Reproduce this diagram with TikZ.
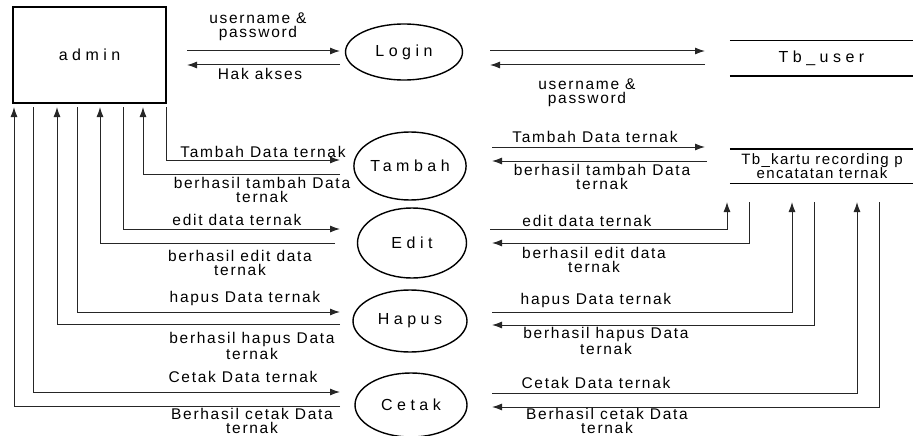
\documentclass[tikz,border=0pt]{standalone}
\usepackage{fontspec}
\setmainfont{Liberation Sans}
\newfontfamily\lbfont{Liberation Sans}[LetterSpace=11]
\newfontfamily\nmfont{Liberation Sans}[LetterSpace=28]
\newfontfamily\stfont{Liberation Sans}[LetterSpace=9]
\usetikzlibrary{shapes.geometric,arrows.meta}
\begin{document}
\begin{tikzpicture}[x=1pt,y=-1pt,
  flow/.style={draw=black!85, line width=1pt},
  arr/.style={flow, -{Latex[length=10pt,width=7pt]}},
  proc/.style={ellipse, draw, line width=1.4pt, inner sep=0pt, font=\nmfont\fontsize{16}{16}\selectfont},
  lbl/.style={align=center, inner sep=0pt, font=\lbfont\fontsize{15.5}{14}\selectfont},
  store/.style={inner sep=0pt, minimum width=183pt, align=center}]
\useasboundingbox (0,0) rectangle (913,436);

% entities and processes
\node[draw, line width=2pt, minimum width=153pt, minimum height=96pt, inner sep=0pt,
      font=\nmfont\fontsize{16}{16}\selectfont] (admin) at (89.5,55) {admin};
\node[proc, minimum width=117pt, minimum height=56pt] (login) at (404,52) {Login};
\node[proc, minimum width=108pt, minimum height=68pt] (tambah) at (410,166) {Tambah};
\node[proc, minimum width=109pt, minimum height=70pt] (edit) at (412,243) {Edit};
\node[proc, minimum width=114pt, minimum height=62pt] (hapus) at (410,321) {Hapus};
\node[proc, minimum width=112pt, minimum height=64pt] (cetak) at (411,405) {Cetak};

% data stores
\node[store, minimum height=35pt, font=\nmfont\fontsize{16}{16}\selectfont] (tbuser) at (821.5,58.5) {Tb\_user};
\draw[line width=1.4pt] (tbuser.north west) -- (tbuser.north east);
\draw[line width=1.4pt] (tbuser.south west) -- (tbuser.south east);
\node[store, minimum height=34pt] (tbkartu) at (821.5,166) {};
\node[inner sep=0pt, align=center, font=\stfont\fontsize{15}{14}\selectfont] (tbktext) at (822,166) {Tb\_kartu recording p\\encatatan ternak};
\draw[line width=1.4pt] (tbkartu.north west) -- (tbkartu.north east);
\draw[line width=1.4pt] (tbkartu.south west) -- (tbkartu.south east);

% coordinates of connector ends
\coordinate (a1) at (187,51);  \coordinate (l1) at (340,51);
\coordinate (a2) at (187,65);  \coordinate (l2) at (340,65);
\coordinate (l3) at (490,51);  \coordinate (u1) at (705,51);
\coordinate (l4) at (490,65);  \coordinate (u2) at (705,65);

\coordinate (s1) at (166,107); \coordinate (t1) at (340,160);
\coordinate (s2) at (143,107); \coordinate (t2) at (340,174);
\coordinate (s3) at (123,107); \coordinate (e1) at (340,229);
\coordinate (s4) at (100,107); \coordinate (e2) at (335,243);
\coordinate (s5) at (77,107);  \coordinate (h1) at (340,312);
\coordinate (s6) at (57,107);  \coordinate (h2) at (340,324);
\coordinate (s7) at (33,107);  \coordinate (c1) at (340,392);
\coordinate (s8) at (14,107);  \coordinate (c2) at (340,406);

\coordinate (t3) at (492,147); \coordinate (k1) at (705,147);
\coordinate (t4) at (492,161); \coordinate (k2) at (707,161);
\coordinate (e3) at (490,229); \coordinate (k3) at (727,202);
\coordinate (e4) at (492,243); \coordinate (k4) at (749,202);
\coordinate (h3) at (492,312); \coordinate (k5) at (792,202);
\coordinate (h4) at (492,325); \coordinate (k6) at (814,202);
\coordinate (c3) at (492,393); \coordinate (k7) at (857,202);
\coordinate (c4) at (492,407); \coordinate (k8) at (879,202);

% login flows
\draw[arr] (a1) -- (l1);
\draw[arr] (l2) -- (a2);
\draw[arr] (l3) -- (u1);
\draw[arr] (u2) -- (l4);

% admin side flows
\draw[arr] (s1) |- (t1);
\draw[arr] (t2) -| (s2);
\draw[arr] (s3) |- (e1);
\draw[arr] (e2) -| (s4);
\draw[arr] (s5) |- (h1);
\draw[arr] (h2) -| (s6);
\draw[arr] (s7) |- (c1);
\draw[arr] (c2) -| (s8);

% store side flows
\draw[arr] (t3) -- (k1);
\draw[arr] (k2) -- (t4);
\draw[arr] (e3) -| (k3);
\draw[arr] (k4) |- (e4);
\draw[arr] (h3) -| (k5);
\draw[arr] (k6) |- (h4);
\draw[arr] (c3) -| (k7);
\draw[arr] (k8) |- (c4);

% labels
\node[lbl] (la1) at (258,27) {username \&\\password};
\node[lbl] (la2) at (260,74) {Hak akses};
\node[lbl] (la3) at (587,93) {username \&\\password};

\node[lbl] (lt1) at (263,152) {Tambah Data ternak};
\node[lbl] (lt2) at (262,190) {berhasil tambah Data\\ternak};
\node[lbl] (le1) at (237,220) {edit data ternak};
\node[lbl] (le2) at (240,263) {berhasil edit data\\ternak};
\node[lbl] (lh1) at (245,298) {hapus Data ternak};
\node[lbl] (lh2) at (252,346) {berhasil hapus Data\\ternak};
\node[lbl] (lc1) at (243,377) {Cetak Data ternak};
\node[lbl] (lc2) at (252,421) {Berhasil cetak Data\\ternak};

\node[lbl] (rt1) at (595,137) {Tambah Data ternak};
\node[lbl] (rt2) at (602,177) {berhasil tambah Data\\ternak};
\node[lbl] (re1) at (587,221) {edit data ternak};
\node[lbl] (re2) at (594,260) {berhasil edit data\\ternak};
\node[lbl] (rh1) at (596,300) {hapus Data ternak};
\node[lbl] (rh2) at (606,341) {berhasil hapus Data\\ternak};
\node[lbl] (rc1) at (596,383) {Cetak Data ternak};
\node[lbl] (rc2) at (607,421) {Berhasil cetak Data\\ternak};
\end{tikzpicture}
\end{document}
